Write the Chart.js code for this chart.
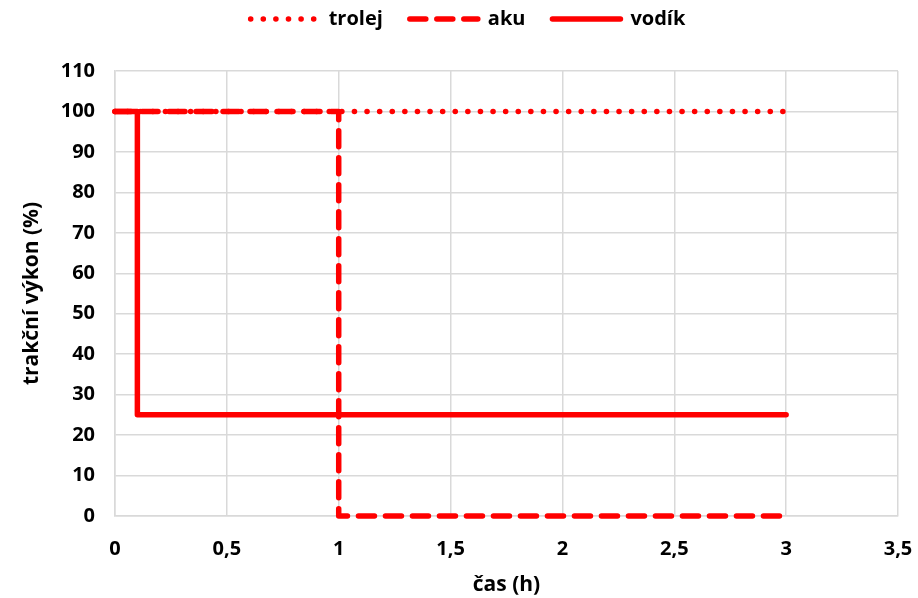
<!DOCTYPE html>
<html>
<head>
<meta charset="utf-8">
<script src="https://cdn.jsdelivr.net/npm/chart.js@4/dist/chart.umd.min.js"></script>
<style>
  html, body { margin: 0; padding: 0; background: #fff; }
  #wrap { width: 918px; height: 598px; }
</style>
</head>
<body>
<div id="wrap"><canvas id="vykonChart" width="918" height="598"></canvas></div>
<script>
// data
const casTrolej = [0, 3]
const trolej = [100, 100]
const casAku = [0, 1, 1, 3]
const aku = [100, 100, 0, 0]
const casVodik = [0, 0.1, 0.1, 3]
const vodik = [100, 100, 25, 25]

const xTicks = [0, 0.5, 1, 1.5, 2, 2.5, 3, 3.5]
const yTicks = [0, 10, 20, 30, 40, 50, 60, 70, 80, 90, 100, 110]

const toPoints = (xs, ys) => xs.map((x, i) => ({x: x, y: ys[i]}))

const font = 'Open Sans'
const red = '#ff0000'
const grid = '#d9d9d9'

const lineSet = (label, data, dash) => ({
    label: label,
    data: data,
    showLine: true,
    borderColor: red,
    backgroundColor: red,
    borderWidth: 5.5,
    borderDash: dash,
    borderCapStyle: 'round',
    borderJoinStyle: 'round',
    pointRadius: 0,
    pointHoverRadius: 0,
    tension: 0,
    clip: false,
    fill: false
})

// legend needs some extra room below it and sits a bit right of centre
const legendSpace = {
    id: 'legendSpace',
    beforeInit(chart) {
        const origFit = chart.legend.fit
        chart.legend.fit = function() {
            origFit.bind(chart.legend)()
            this.height += 32
        }
    },
    afterLayout(chart) {
        chart.legend.left += 19
        chart.legend.right += 19
    }
}

const ctx = document.getElementById('vykonChart').getContext('2d')
const myChart = new Chart(ctx, {
    type: 'scatter',
    data: {
        datasets: [
            lineSet('trolej', toPoints(casTrolej, trolej), [0.1, 12.5]),
            lineSet('aku', toPoints(casAku, aku), [16, 11]),
            lineSet('vodík', toPoints(casVodik, vodik), [])
        ]
    },
    plugins: [legendSpace],
    options: {
        responsive: false,
        animation: false,
        layout: {padding: {left: 0, right: 20, top: -18, bottom: 0}},
        plugins: {
            tooltip: {enabled: false},
            legend: {
                position: 'top',
                labels: {
                    usePointStyle: true,
                    pointStyle: 'line',
                    pointStyleWidth: 68,
                    boxHeight: 10,
                    padding: 27,
                    color: '#000',
                    font: {family: font, size: 20, weight: 'bold'},
                    generateLabels: chart => chart.data.datasets.map((d, i) => ({
                        text: d.label,
                        datasetIndex: i,
                        fillStyle: d.borderColor,
                        strokeStyle: d.borderColor,
                        lineWidth: d.borderWidth,
                        lineDash: d.borderDash,
                        lineCap: d.borderCapStyle,
                        pointStyle: 'line',
                        fontColor: '#000',
                        hidden: false
                    }))
                }
            }
        },
        scales: {
            x: {
                type: 'linear',
                min: 0,
                max: 3.5,
                afterBuildTicks: s => { s.ticks = xTicks.map(v => ({value: v})) },
                afterFit: s => {
                    s.height = 82
                    s.paddingLeft = 0
                    s.paddingRight = 0
                },
                ticks: {
                    color: '#000',
                    padding: 21,
                    font: {family: font, size: 20, weight: 'bold'},
                    callback: v => String(v).replace('.', ',')
                },
                grid: {color: grid, lineWidth: 1.5, drawTicks: false},
                border: {color: grid, width: 1.5},
                title: {
                    display: true,
                    text: 'čas (h)',
                    color: '#000',
                    padding: {top: 0, bottom: 0},
                    font: {family: font, size: 21, weight: 'bold'}
                }
            },
            y: {
                type: 'linear',
                min: 0,
                max: 110,
                afterBuildTicks: s => { s.ticks = yTicks.map(v => ({value: v})) },
                afterFit: s => { s.width = 115 },
                ticks: {
                    color: '#000',
                    padding: 20,
                    font: {family: font, size: 20, weight: 'bold'}
                },
                grid: {color: grid, lineWidth: 1.5, drawTicks: false},
                border: {color: grid, width: 1.5},
                title: {
                    display: true,
                    text: 'trakční výkon (%)',
                    color: '#000',
                    padding: {top: 19, bottom: 0},
                    font: {family: font, size: 21, weight: 'bold'}
                }
            }
        }
    }
})
</script>
</body>
</html>
